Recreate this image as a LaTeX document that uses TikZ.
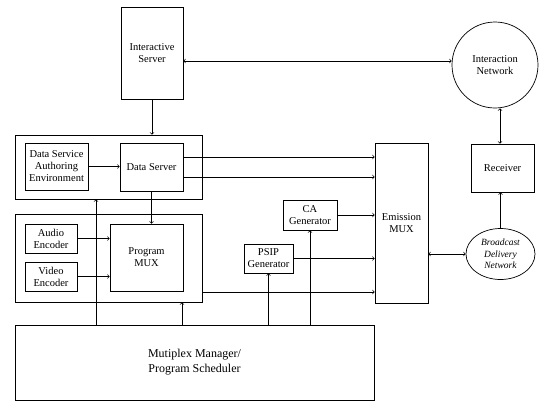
\documentclass[tikz,border=0pt]{standalone}
\usepackage{fontspec}
\setmainfont{Liberation Serif}
\usetikzlibrary{shapes.geometric}

\begin{document}
\begin{tikzpicture}[x=1pt, y=-1pt, line width=0.7pt,
			blk/.style={draw, align=center, inner sep=1pt, font=\fontsize{10.5}{12}\selectfont},
			grp/.style={draw, inner sep=0pt}]
			\useasboundingbox (0,0) rectangle (544,402);

			\node[grp, minimum width=187pt, minimum height=64pt] (dgrp) at (108.5,167) {};
			\node[grp, minimum width=187pt, minimum height=88pt] (pgrp) at (108.5,258) {};

			\node[blk, minimum width=62pt, minimum height=92pt] (isrv) at (152,53) {Interactive\\Server};
			\node[blk, circle, minimum size=86pt] (inet) at (495,65) {Interaction\\Network};
			\node[blk, minimum width=63pt, minimum height=47pt] (dsae) at (56.5,166.5) {Data Service\\Authoring\\Environment};
			\node[blk, minimum width=63pt, minimum height=48pt] (dsrv) at (151.5,167) {Data Server};
			\node[blk, minimum width=52pt, minimum height=29pt] (aenc) at (51,238.5) {Audio\\Encoder};
			\node[blk, minimum width=52pt, minimum height=29pt] (venc) at (51,276.5) {Video\\Encoder};
			\node[blk, minimum width=73pt, minimum height=67pt] (pmux) at (146.5,257.5) {Program\\MUX};
			\node[blk, minimum width=54pt, minimum height=30pt] (cagen) at (310,215) {CA\\Generator};
			\node[blk, minimum width=49pt, minimum height=29pt] (psip) at (268.5,258.5) {PSIP\\Generator};
			\node[blk, minimum width=53pt, minimum height=160pt] (emux) at (401.5,223) {Emission\\MUX};
			\node[blk, minimum width=63pt, minimum height=48pt] (recv) at (502.5,168) {Receiver};
			\node[blk, ellipse, inner sep=0pt, minimum width=69pt, minimum height=51pt, font=\fontsize{9.5}{11.5}\selectfont\itshape] (bdn) at (500.5,254) {Broadcast\\Delivery\\Network};
			\node[blk, minimum width=359pt, minimum height=75pt, font=\fontsize{12}{15}\selectfont] (mmgr) at (194.5,362.5) {Mutiplex Manager/\\Program Scheduler};

			\draw[<->] ([yshift=-8pt]isrv.east) -- ([yshift=-8pt]isrv.east -| inet.west);
			\draw[->] (isrv.south) -- (isrv.south |- dgrp.north);
			\draw[->] (dsae) -- (dsae -| dsrv.west);
			\draw[->] ([yshift=10pt]dsrv.east) -- ([yshift=10pt]dsrv.east -| emux.west);
			\draw[->] ([yshift=-10pt]dsrv.east) -- ([yshift=-10pt]dsrv.east -| emux.west);
			\draw[->] (dsrv.south) -- (dsrv.south |- pmux.north);
			\draw[->] (aenc) -- (aenc -| pmux.west);
			\draw[->] (venc) -- (venc -| pmux.west);
			\draw[->] ([yshift=-34pt]pgrp.east) -- ([yshift=-34pt]pgrp.east -| emux.west);
			\draw[->] (cagen) -- (cagen -| emux.west);
			\draw[->] (psip) -- (psip -| emux.west);

			\draw[->] (mmgr.north -| 96,0) -- (dgrp.south -| 96,0);
			\draw[->] (mmgr.north -| 182,0) -- (pgrp.south -| 182,0);
			\draw[->] (psip.south |- mmgr.north) -- (psip.south);
			\draw[->] (cagen.south |- mmgr.north) -- (cagen.south);

			\draw[<->] ([yshift=-31pt]emux.east) -- (bdn.west);
			\draw[->] (bdn.north) -- (bdn.north |- recv.south);
			\draw[<->] ([xshift=-2.5pt]recv.north |- inet.south) -- ([xshift=-2.5pt]recv.north);

		\end{tikzpicture}
\end{document}
